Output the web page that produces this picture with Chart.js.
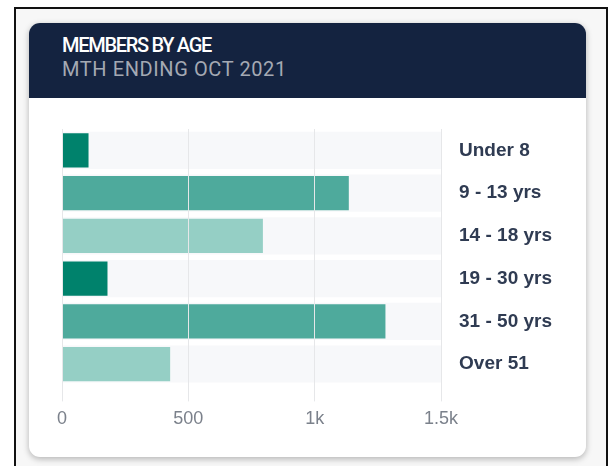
<!DOCTYPE html>
<html>
<head>
<meta charset="utf-8">
<script src="https://cdn.jsdelivr.net/npm/chart.js@4.4.0/dist/chart.umd.min.js"></script>
<style>
  html, body { margin: 0; padding: 0; background: #fff; overflow: hidden; }
  .frame {
    position: absolute; left: 14px; top: 7px; width: 590px; height: 480px;
    border: 2px solid #111; border-bottom: none; background: #f7f7f7;
  }
  .card {
    position: absolute; left: 29px; top: 23px; width: 557px; height: 434px;
    background: #fff; border-radius: 11px; overflow: hidden;
    box-shadow: 0 2px 6px rgba(0,0,0,0.28);
  }
  .head {
    height: 75px; background: #142340; box-sizing: border-box;
    padding: 10px 0 0 33px; font-family: Roboto, sans-serif; line-height: 24px;
  }
  .head .t { color: #fff; font-weight: 500; font-size: 20px; letter-spacing: -1.3px; }
  .head .s { color: #a4a9b3; font-size: 20px; letter-spacing: 0.6px; }
  .body { position: relative; height: 359px; }
</style>
</head>
<body>
<div class="frame"></div>
<div class="card">
  <div class="head">
    <div class="t">MEMBERS BY AGE</div>
    <div class="s">MTH ENDING OCT 2021</div>
  </div>
  <div class="body"><canvas id="age-chart"></canvas></div>
</div>
<script>
// data
var categories = ["Under 8", "9 - 13 yrs", "14 - 18 yrs", "19 - 30 yrs", "31 - 50 yrs", "Over 51"];
var members = [105, 1135, 795, 180, 1280, 428];
var barColors = ["#00826c", "#4eaa9c", "#95cfc5", "#00826c", "#4eaa9c", "#95cfc5"];
var axisMax = 1500;
var tickStep = 500;

function tickLabel(v) {
    return v >= 1000 ? (v / 1000) + "k" : v;
}

var ctx = document.getElementById("age-chart").getContext("2d");
var chart = new Chart(ctx, {
    type: "bar",
    data: {
        labels: categories,
        datasets: [
            {
                label: "Members",
                data: members,
                backgroundColor: barColors,
                barPercentage: 0.8,
                categoryPercentage: 1,
                grouped: false,
                order: 1
            },
            {
                label: "Track",
                data: categories.map(function () { return axisMax; }),
                backgroundColor: "#f7f8fa",
                barPercentage: 0.87,
                categoryPercentage: 1,
                grouped: false,
                order: 2
            }
        ]
    },
    options: {
        indexAxis: "y",
        responsive: true,
        maintainAspectRatio: false,
        animation: false,
        layout: { padding: { left: 33, right: 16, top: 31, bottom: 20 } },
        plugins: {
            legend: { display: false },
            tooltip: { enabled: false }
        },
        scales: {
            x: {
                min: 0,
                max: axisMax,
                border: { display: false },
                grid: { color: "#e6e7e9", z: 1, tickLength: 16 },
                ticks: {
                    stepSize: tickStep,
                    color: "#7b818b",
                    padding: 7,
                    font: { family: "'Liberation Sans', Arial, sans-serif", size: 18 },
                    callback: tickLabel
                }
            },
            y: {
                position: "right",
                border: { display: false },
                grid: { display: false, drawTicks: false },
                ticks: {
                    color: "#2f3b52",
                    padding: 18,
                    font: { family: "'Liberation Sans', Arial, sans-serif", size: 19, weight: "bold" }
                }
            }
        }
    }
});
</script>
</body>
</html>
